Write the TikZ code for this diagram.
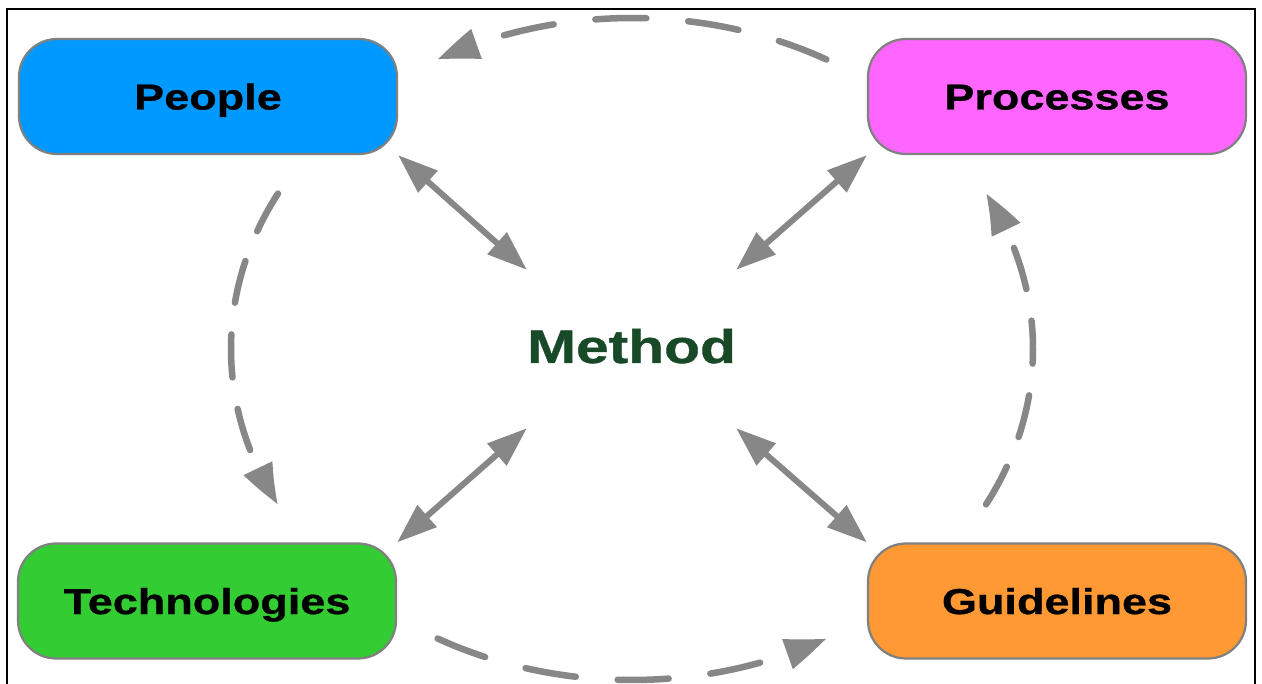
\documentclass[tikz,border=0pt]{standalone}
\usepackage{fontspec}
\newfontfamily\labelfont{Liberation Sans}[FakeStretch=1.25, BoldFeatures={FakeBold=0.8}]
\usetikzlibrary{arrows.meta,bending}

\definecolor{peopleblue}{HTML}{0099FF}
\definecolor{processpink}{HTML}{FF66FF}
\definecolor{techgreen}{HTML}{33CC33}
\definecolor{guideorange}{HTML}{FF9933}
\definecolor{edgegray}{HTML}{878787}
\definecolor{boxrim}{HTML}{808080}
\definecolor{methodgreen}{RGB}{24,74,40}

\tikzset{
  box/.style={draw=boxrim, line width=2.2pt, rounded corners=38pt,
    minimum width=378pt, minimum height=115pt, inner sep=0pt,
    font=\labelfont\bfseries\fontsize{36}{40}\selectfont,
    text height=26pt, text depth=0pt},
  hubtext/.style={minimum width=193pt, minimum height=158pt, inner sep=0pt,
    font=\labelfont\bfseries\fontsize{47}{50}\selectfont, text=methodgreen,
    text height=34pt, text depth=6pt},
  twoway/.style={draw=edgegray, line width=6pt,
    {Triangle[length=40pt,width=28pt]}-{Triangle[length=40pt,width=28pt]}},
  cycle/.style={draw=edgegray, line width=6.5pt, line cap=round,
    -{Triangle[length=42pt,width=30pt,bend]}},
  widecycle/.style={cycle, dash pattern=on 51pt off 42pt},
  tallcycle/.style={cycle, dash pattern=on 43pt off 32pt}
}

\begin{document}
\begin{tikzpicture}[x=1pt,y=1pt]
  \useasboundingbox (0,0) rectangle (1262,-684);
  \fill[white] (0,0) rectangle (1262,-684);

  % outer frame (open at the bottom edge)
  \draw[black, line width=1.6pt] (7,-684) -- (7,-9) -- (1255,-9) -- (1255,-684);

  % the four areas
  \node[box, fill=peopleblue]  (people) at (208,-96.5) {People};
  \node[box, fill=processpink] (proc)   at (1057,-96.5) {Processes};
  \node[box, fill=techgreen]   (tech)   at (207,-601) {Technologies};
  \node[box, fill=guideorange] (guide)  at (1057,-601) {Guidelines};

  % central label
  \node[hubtext] (method) at (631.5,-349) {Method};

  % two-way links to the centre
  \draw[twoway] (people.south east) -- (method.north west);
  \draw[twoway] (proc.south west)   -- (method.north east);
  \draw[twoway] (tech.north east)   -- (method.south west);
  \draw[twoway] (guide.north west)  -- (method.south east);

  % dashed cycle around the centre
  \coordinate (ring) at (632,-349);
  \draw[widecycle] ([shift={(61:401 and 331)}]ring)
    arc[start angle=61, end angle=119, x radius=401, y radius=331];
  \draw[tallcycle] ([shift={(152:401 and 331)}]ring)
    arc[start angle=152, end angle=208, x radius=401, y radius=331];
  \draw[widecycle] ([shift={(241:401 and 331)}]ring)
    arc[start angle=241, end angle=299, x radius=401, y radius=331];
  \draw[tallcycle] ([shift={(332:401 and 331)}]ring)
    arc[start angle=332, end angle=388, x radius=401, y radius=331];
\end{tikzpicture}
\end{document}
